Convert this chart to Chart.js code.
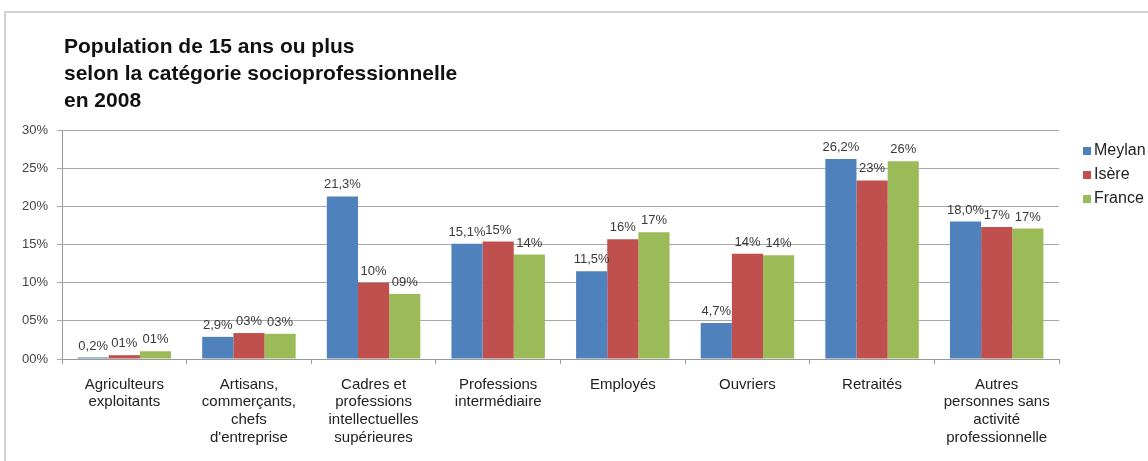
<!DOCTYPE html>
<html>
<head>
<meta charset="utf-8">
<script src="https://cdn.jsdelivr.net/npm/chart.js@4.4.0/dist/chart.umd.min.js"></script>
<style>
  html, body { margin: 0; padding: 0; background: #fff; }
</style>
</head>
<body>
<canvas id="chart" width="1148" height="461"></canvas>
<script>
// catégories (libellés sur plusieurs lignes)
const categories = [
    ['Agriculteurs', 'exploitants'],
    ['Artisans,', 'commerçants,', 'chefs', "d'entreprise"],
    ['Cadres et', 'professions', 'intellectuelles', 'supérieures'],
    ['Professions', 'intermédiaire'],
    ['Employés'],
    ['Ouvriers'],
    ['Retraités'],
    ['Autres', 'personnes sans', 'activité', 'professionnelle']
];

// valeurs en %
const meylan = [0.2, 2.9, 21.3, 15.1, 11.5, 4.7, 26.2, 18.0];
const isere  = [0.5, 3.4, 10.0, 15.4, 15.7, 13.8, 23.4, 17.3];
const france = [1.0, 3.3, 8.5, 13.7, 16.6, 13.6, 25.9, 17.1];

const seriesNames = ['Meylan', 'Isère', 'France'];
const seriesColors = ['#4f81bd', '#c0504d', '#9bbb59'];
const yTicks = [0, 5, 10, 15, 20, 25, 30];
const titleLines = [
    'Population de 15 ans ou plus',
    'selon la catégorie socioprofessionnelle',
    'en 2008'
];

const FONT = '"Liberation Sans", Arial, sans-serif';

// Meylan : une décimale ; Isère / France : entier sur 2 chiffres
const fmtDecimal = v => v.toFixed(1).replace('.', ',') + '%';
const fmtPadded = v => String(Math.round(v)).padStart(2, '0') + '%';
const formatters = [fmtDecimal, fmtPadded, fmtPadded];

// cadre, titre, légende et étiquettes de valeurs
const decorations = {
    id: 'decorations',
    beforeDraw(chart) {
        const ctx = chart.ctx;
        ctx.save();
        ctx.strokeStyle = '#d2d2d2';
        ctx.lineWidth = 2;
        ctx.beginPath();
        ctx.moveTo(5, chart.height + 5);
        ctx.lineTo(5, 12);
        ctx.lineTo(chart.width + 5, 12);
        ctx.stroke();
        ctx.restore();
    },
    afterDatasetsDraw(chart) {
        const ctx = chart.ctx;
        ctx.save();
        ctx.font = '13px ' + FONT;
        ctx.fillStyle = '#3a3a3a';
        ctx.textAlign = 'center';
        ctx.textBaseline = 'bottom';
        chart.data.datasets.forEach((ds, i) => {
            chart.getDatasetMeta(i).data.forEach((bar, j) => {
                ctx.fillText(formatters[i](ds.data[j]), bar.x, bar.y - 5);
            });
        });
        ctx.restore();
    },
    afterDraw(chart) {
        const ctx = chart.ctx;
        const area = chart.chartArea;
        ctx.save();
        // titre
        ctx.font = 'bold 21px ' + FONT;
        ctx.fillStyle = '#111';
        ctx.textAlign = 'left';
        ctx.textBaseline = 'alphabetic';
        titleLines.forEach((line, i) => {
            ctx.fillText(line, area.left + 2, 53 + i * 27);
        });
        // légende
        ctx.font = '16px ' + FONT;
        ctx.textBaseline = 'middle';
        chart.data.datasets.forEach((ds, i) => {
            const y = area.top + 21 + i * 24;
            const x = area.right + 24;
            ctx.fillStyle = ds.backgroundColor;
            ctx.fillRect(x, y - 4, 8, 8);
            ctx.fillStyle = '#222';
            ctx.fillText(ds.label, x + 11, y);
        });
        ctx.restore();
    }
};

new Chart(document.getElementById('chart'), {
    type: 'bar',
    data: {
        labels: categories,
        datasets: [meylan, isere, france].map((values, i) => ({
            label: seriesNames[i],
            data: values,
            backgroundColor: seriesColors[i],
            borderWidth: 0,
            categoryPercentage: 0.75,
            barPercentage: 1.0
        }))
    },
    options: {
        responsive: false,
        animation: false,
        layout: { padding: { top: 130, left: 10, right: 89, bottom: 0 } },
        plugins: {
            legend: { display: false },
            title: { display: false },
            tooltip: { enabled: false }
        },
        scales: {
            x: {
                afterFit: scale => { scale.height = 102; },
                grid: { display: true, drawOnChartArea: false, drawTicks: true, tickLength: 5, color: '#9a9a9a' },
                border: { color: '#9a9a9a' },
                ticks: {
                    color: '#222',
                    padding: 12,
                    maxRotation: 0,
                    autoSkip: false,
                    font: { family: FONT, size: 15, lineHeight: 1.17 }
                }
            },
            y: {
                min: 0,
                max: 30,
                afterFit: scale => { scale.width = 52; },
                afterBuildTicks: scale => { scale.ticks = yTicks.map(v => ({ value: v })); },
                grid: { color: '#a8a8a8', tickLength: 5 },
                border: { color: '#9a9a9a' },
                ticks: {
                    color: '#444',
                    padding: 9,
                    font: { family: FONT, size: 13 },
                    callback: v => String(v).padStart(2, '0') + '%'
                }
            }
        }
    },
    plugins: [decorations]
});
</script>
</body>
</html>
